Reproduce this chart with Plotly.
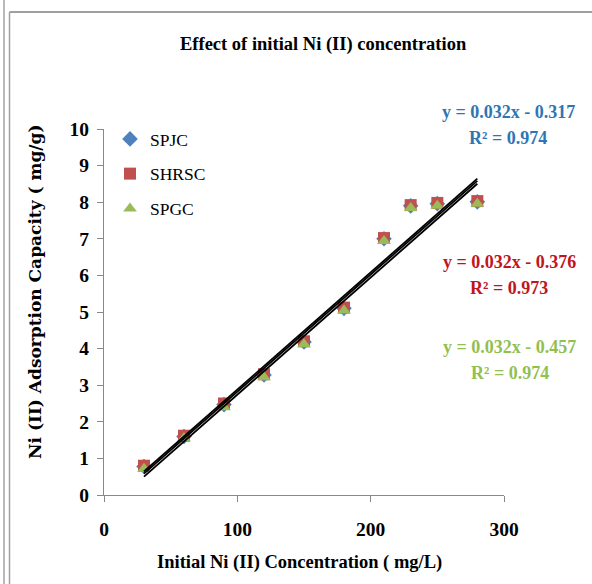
import plotly.graph_objects as go
import numpy as np

# ---- data ----
conc = [30, 60, 90, 120, 150, 180, 210, 230, 250, 280]
spjc = [0.78, 1.60, 2.47, 3.28, 4.18, 5.10, 7.00, 7.90, 7.96, 8.01]
shrsc = [0.80, 1.62, 2.50, 3.30, 4.20, 5.12, 7.02, 7.92, 7.98, 8.03]
spgc = [0.72, 1.55, 2.40, 3.22, 4.12, 5.04, 6.94, 7.84, 7.90, 7.96]
series_names = ["SPJC", "SHRSC", "SPGC"]
slopes = [0.032, 0.032, 0.032]
intercepts = [-0.317, -0.376, -0.457]
r2 = [0.974, 0.973, 0.974]
x_ticks = [0, 100, 200, 300]
y_ticks = list(range(0, 11))

# ---- style ----
W, H = 592, 584
L, R, T, B = 104, 88, 129, 89
PW, PH = W - L - R, H - T - B
def px(x):
    return (x - L) / PW
def py(y):
    return (H - B - y) / PH

marker_colors = ["#4F81BD", "#C0504D", "#9BBB59"]
symbols = ["diamond", "square", "triangle-up"]
text_colors = ["#2E75B6", "#C0151C", "#92C050"]
serif = "Liberation Serif"

fig = go.Figure()
all_y = [spjc, shrsc, spgc]
for i, name in enumerate(series_names):
    fig.add_trace(go.Scatter(
        x=conc, y=all_y[i], mode="markers", name=name,
        legendgroup=name,
        marker=dict(symbol=symbols[i], color=marker_colors[i], size=12,
                    line=dict(width=0)),
    ))

xs = np.array([min(conc), max(conc)])
for i, name in enumerate(series_names):
    fig.add_trace(go.Scatter(
        x=xs, y=slopes[i] * xs + intercepts[i], mode="lines",
        line=dict(color="black", width=1.8), showlegend=False,
        hoverinfo="skip",
    ))

# equation annotations
eq_pos = [(508, 112, 138), (509, 262, 288), (510, 347, 373)]
annotations = []
for i in range(3):
    cx, y1, y2 = eq_pos[i]
    sign = "-" if intercepts[i] < 0 else "+"
    annotations.append(dict(
        x=px(cx), y=py(y1), xref="paper", yref="paper", showarrow=False,
        text=f"y = {slopes[i]:.3f}x {sign} {abs(intercepts[i]):.3f}",
        font=dict(family=serif, size=18, color=text_colors[i], weight="bold"),
        xanchor="center", yanchor="middle"))
    annotations.append(dict(
        x=px(cx), y=py(y2), xref="paper", yref="paper", showarrow=False,
        text=f"R² = {r2[i]:.3f}",
        font=dict(family=serif, size=18, color=text_colors[i], weight="bold"),
        xanchor="center", yanchor="middle"))

# title
annotations.append(dict(
    x=px(323), y=py(44), xref="paper", yref="paper", showarrow=False,
    text="Effect of initial Ni (II) concentration",
    font=dict(family=serif, size=18.5, color="black", weight="bold"),
    xanchor="center", yanchor="middle"))
# x title
annotations.append(dict(
    x=px(299), y=py(562), xref="paper", yref="paper", showarrow=False,
    text="Initial Ni (II) Concentration ( mg/L)",
    font=dict(family=serif, size=18.5, color="black", weight="bold"),
    xanchor="center", yanchor="middle"))
# y title
annotations.append(dict(
    x=px(35), y=py(292), xref="paper", yref="paper", showarrow=False,
    text="Ni (II) Adsorption Capacity ( mg/g)", textangle=-90,
    font=dict(family="DejaVu Serif", size=17, color="black", weight="bold"),
    xanchor="center", yanchor="middle"))

# frame lines
shapes = [
    dict(type="line", xref="paper", yref="paper", x0=px(4), x1=px(4),
         y0=py(0), y1=py(H), line=dict(color="#A0A0A0", width=1.5)),
    dict(type="line", xref="paper", yref="paper", x0=px(9.5), x1=px(9.5),
         y0=py(12), y1=py(H), line=dict(color="#A0A0A0", width=1.5)),
    dict(type="line", xref="paper", yref="paper", x0=px(9.5), x1=px(W),
         y0=py(12), y1=py(12), line=dict(color="#A0A0A0", width=2)),
]

axis_common = dict(showgrid=False, zeroline=False, showline=True,
                   linecolor="#888888", linewidth=1.2, ticks="outside",
                   tickcolor="#888888", ticklen=6, tickwidth=1.2,
                   tickfont=dict(family=serif, size=19.5, color="black",
                                 weight="bold"))

fig.update_layout(
    width=W, height=H, margin=dict(l=L, r=R, t=T, b=B),
    paper_bgcolor="white", plot_bgcolor="white",
    xaxis=dict(range=[0, 300], tickvals=x_ticks, ticklabelstandoff=10,
               **axis_common),
    yaxis=dict(range=[0, 10], tickvals=y_ticks, ticklabelstandoff=4,
               **axis_common),
    legend=dict(x=px(110), y=py(121), xanchor="left", yanchor="top",
                bgcolor="rgba(0,0,0,0)", tracegroupgap=9, itemwidth=30,
                font=dict(family=serif, size=17.5, color="black")),
    annotations=annotations, shapes=shapes,
)

fig.write_html("out.html")
